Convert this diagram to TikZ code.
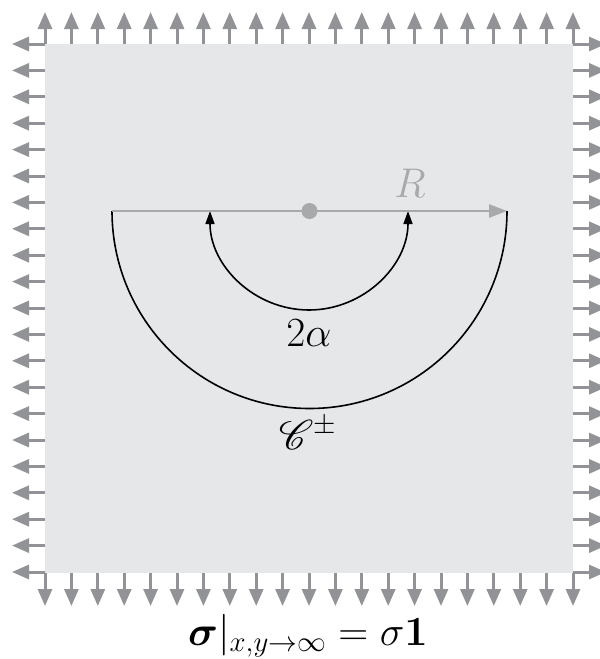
\documentclass[tikz,border=0pt]{standalone}
\usepackage{amsmath,amssymb,mathrsfs}
\usetikzlibrary{arrows.meta}
\definecolor{bgfill}{RGB}{230,231,232}
\definecolor{stressgray}{RGB}{146,147,151}
\definecolor{axisgray}{RGB}{168,169,171}
\begin{document}
\begin{tikzpicture}[x=0.5pt,y=-0.5pt,
  font=\fontsize{20}{24}\selectfont,
  stressarrow/.style={draw=stressgray,fill=stressgray,line width=1.5pt,
    -{Triangle[length=8.5pt,width=7pt]}},
  axisline/.style={draw=axisgray,line width=1.3pt,
    -{Triangle[length=9pt,width=6.5pt]}},
  contour/.style={draw=black,line width=0.8pt},
  anglearc/.style={draw=black,line width=0.8pt,
    {Triangle[length=6.5pt,width=4.5pt]}-{Triangle[length=6.5pt,width=4.5pt]}},
  lbl/.style={anchor=base,inner sep=0pt}]
\useasboundingbox (0,0) rectangle (600,659);
\fill[bgfill] (45,44) rectangle (573,573);
\foreach \i in {0,...,20}{
  \pgfmathsetmacro\p{45+\i*26.4}
  \draw[stressarrow] (\p,44) -- (\p,12);
  \draw[stressarrow] (\p,573) -- (\p,606);
  \draw[stressarrow] (45,\p-1) -- (12,\p-1);
  \draw[stressarrow] (573,\p-1) -- (606,\p-1);
}
\coordinate (Ol) at (112,211);
\coordinate (Or) at (507,211);
\coordinate (Il) at (210,211);
\coordinate (C) at (309.5,211);
% outer contour
\draw[contour] (Ol) arc[start angle=180,end angle=0,radius=197.5];
% inner angle arc
\draw[anglearc] (Il) arc[start angle=180,end angle=0,radius=99];
% axis R
\draw[axisline] (Ol) -- (Or);
\fill[axisgray] (C) circle[radius=8];
\node[lbl,text=axisgray] (R) at (410,197) {$R$};
\node[lbl] (alpha) at (309,346) {$2\alpha$};
\node[lbl] (cont) at (308,449) {$\mathscr{C}^{\pm}$};
\node[lbl] (bc) at (308,645) {$\boldsymbol{\sigma}|_{x,y\to\infty}=\sigma\mathbf{1}$};
\end{tikzpicture}
\end{document}
